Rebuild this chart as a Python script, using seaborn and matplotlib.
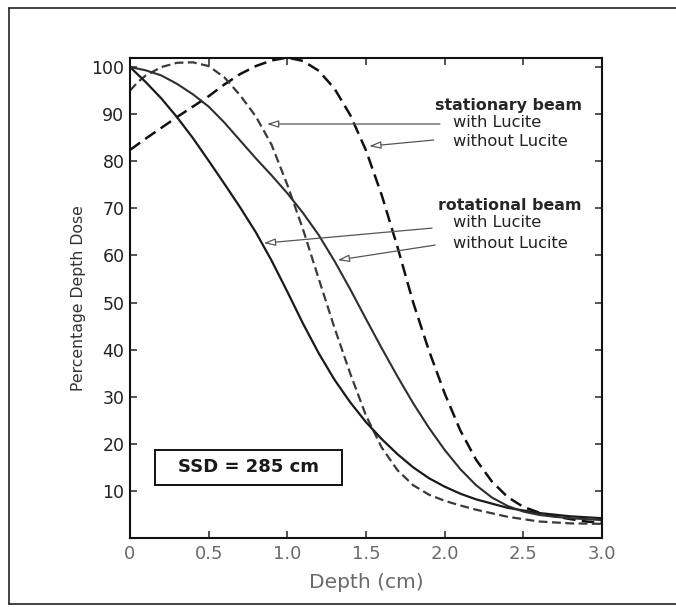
import pandas as pd
import matplotlib.pyplot as plt
import seaborn as sns
from matplotlib.patches import Rectangle
from matplotlib.lines import Line2D

# Curvas de dose em profundidade
x_stat_sem = [0, 0.1, 0.2, 0.3, 0.4, 0.5, 0.6, 0.7, 0.8, 0.9, 1.0, 1.1, 1.2, 1.3, 1.4,
              1.5, 1.6, 1.7, 1.8, 1.9, 2.0, 2.1, 2.2, 2.3, 2.4, 2.5, 2.6, 2.7, 2.8, 2.9, 3.0]
y_stat_sem = [82.4, 84.8, 87.1, 89.4, 91.6, 93.8, 96.3, 98.5, 100.2, 101.4, 102, 101.3, 99.2,
              95.4, 89.8, 82.3, 72.8, 61.8, 50, 39.8, 30.7, 22.8, 16.6, 12, 8.7, 6.6, 5.4,
              4.6, 4.0, 3.5, 3.2]

x_stat_com = [0, 0.05, 0.1, 0.2, 0.3, 0.4, 0.5, 0.6, 0.7, 0.8, 0.9, 1.0, 1.1, 1.2, 1.3,
              1.4, 1.5, 1.6, 1.7, 1.8, 1.9, 2.0, 2.1, 2.2, 2.4, 2.6, 2.8, 3.0]
y_stat_com = [95, 96.8, 98.2, 100, 100.9, 101, 100.2, 97.8, 94, 89.5, 83.5, 75, 65.5, 55,
              44.6, 34.9, 26, 19.2, 14.4, 11.2, 9.2, 7.9, 6.9, 6.0, 4.5, 3.5, 3.1, 3.0]

x_rot_com = [0, 0.1, 0.2, 0.3, 0.4, 0.5, 0.6, 0.7, 0.8, 0.9, 1.0, 1.1, 1.2, 1.3, 1.4, 1.5,
             1.6, 1.7, 1.8, 1.9, 2.0, 2.1, 2.2, 2.4, 2.6, 2.8, 3.0]
y_rot_com = [100, 96.8, 93.3, 89.3, 84.9, 80.1, 75.2, 70.2, 64.9, 58.9, 52.3, 45.5, 39.2,
             33.6, 28.8, 24.6, 21, 17.8, 15, 12.7, 10.9, 9.4, 8.2, 6.4, 5.3, 4.6, 4.2]

x_rot_sem = [0, 0.1, 0.2, 0.3, 0.4, 0.5, 0.6, 0.7, 0.8, 0.9, 1.0, 1.1, 1.2, 1.3, 1.4, 1.5,
             1.6, 1.7, 1.8, 1.9, 2.0, 2.1, 2.2, 2.3, 2.4, 2.5, 2.6, 2.7, 2.8, 3.0]
y_rot_sem = [100, 99.3, 98.2, 96.4, 94.2, 91.6, 88.2, 84.4, 80.6, 77, 73.2, 69, 64.3, 58.8,
             52.8, 46.5, 40.3, 34.3, 28.6, 23.4, 18.7, 14.6, 11.2, 8.6, 6.8, 5.6, 4.9, 4.5,
             4.2, 3.8]

x_ticks = [0, 0.5, 1.0, 1.5, 2.0, 2.5, 3.0]
x_labels = ['0', '0.5', '1.0', '1.5', '2.0', '2.5', '3.0']
y_ticks = [10, 20, 30, 40, 50, 60, 70, 80, 90, 100]

sns.set_style('ticks')
plt.rcParams['font.family'] = ['DejaVu Sans']

fig = plt.figure(figsize=(6.76, 6.07), dpi=100)
ax = fig.add_axes([0.1923, 0.1137, 0.6982, 0.7914])

sns.lineplot(x=x_stat_sem, y=y_stat_sem, ax=ax, color='#111111', linewidth=1.8,
             linestyle=(0, (5, 2.5)))
sns.lineplot(x=x_stat_com, y=y_stat_com, ax=ax, color='#3a3a3a', linewidth=1.6,
             linestyle=(0, (4, 2)))
sns.lineplot(x=x_rot_com, y=y_rot_com, ax=ax, color='#1a1a1a', linewidth=1.6)
sns.lineplot(x=x_rot_sem, y=y_rot_sem, ax=ax, color='#2e2e2e', linewidth=1.5)

ax.set_xlim(0, 3.0)
ax.set_ylim(0, 102)
ax.set_xticks(x_ticks)
ax.set_xticklabels(x_labels)
ax.set_yticks(y_ticks)
ax.tick_params(direction='in', length=5, width=1.1, top=True, right=True, pad=4)
ax.tick_params(axis='x', labelsize=13, labelcolor='#6a6a6a', pad=5)
ax.tick_params(axis='y', labelsize=12.5, labelcolor='#222222')
for s in ax.spines.values():
    s.set_linewidth(1.5)
    s.set_color('#111111')

ax.set_xlabel('Depth (cm)', fontsize=14.5, color='#6a6a6a', labelpad=7)
ax.set_ylabel('Percentage Depth Dose', fontsize=11.3, color='#333333', labelpad=4)

# Legendas em texto
ax.text(2.87, 91.9, 'stationary beam', fontsize=11.4, fontweight='bold', ha='right', va='center')
ax.text(2.05, 88.3, 'with Lucite', fontsize=11.7, ha='left', va='center', color='#222222')
ax.text(2.05, 84.1, 'without Lucite', fontsize=11.7, ha='left', va='center', color='#222222')
ax.text(2.87, 70.7, 'rotational beam', fontsize=11.4, fontweight='bold', ha='right', va='center')
ax.text(2.05, 66.9, 'with Lucite', fontsize=11.7, ha='left', va='center', color='#222222')
ax.text(2.05, 62.6, 'without Lucite', fontsize=11.7, ha='left', va='center', color='#222222')

setas = [((0.87, 87.9), (1.97, 87.9)),
         ((1.52, 83.2), (1.93, 84.5)),
         ((0.85, 62.6), (1.92, 65.8)),
         ((1.32, 59.0), (1.94, 62.2))]
for tip, tail in setas:
    ax.annotate('', xy=tip, xytext=tail,
                arrowprops=dict(arrowstyle='-|>,head_length=0.7,head_width=0.22',
                                color='#555555', lw=0.9, fc='white', shrinkA=0, shrinkB=0))

# Caixa SSD
ax.add_patch(Rectangle((0.16, 11.3), 1.19, 7.4, fill=False, ec='#111111', lw=1.4))
ax.text(0.755, 15.0, 'SSD = 285 cm', fontsize=13, fontweight='bold', ha='center',
        va='center', color='#1a1a1a')

# Moldura da figura digitalizada
for xs, ys in [([0.013, 0.013], [0.005, 0.987]), ([0.013, 1.0], [0.987, 0.987]),
               ([0.013, 1.0], [0.005, 0.005])]:
    fig.add_artist(Line2D(xs, ys, color='#222222', lw=1.2, transform=fig.transFigure))

fig.savefig('out.png', dpi=100)
